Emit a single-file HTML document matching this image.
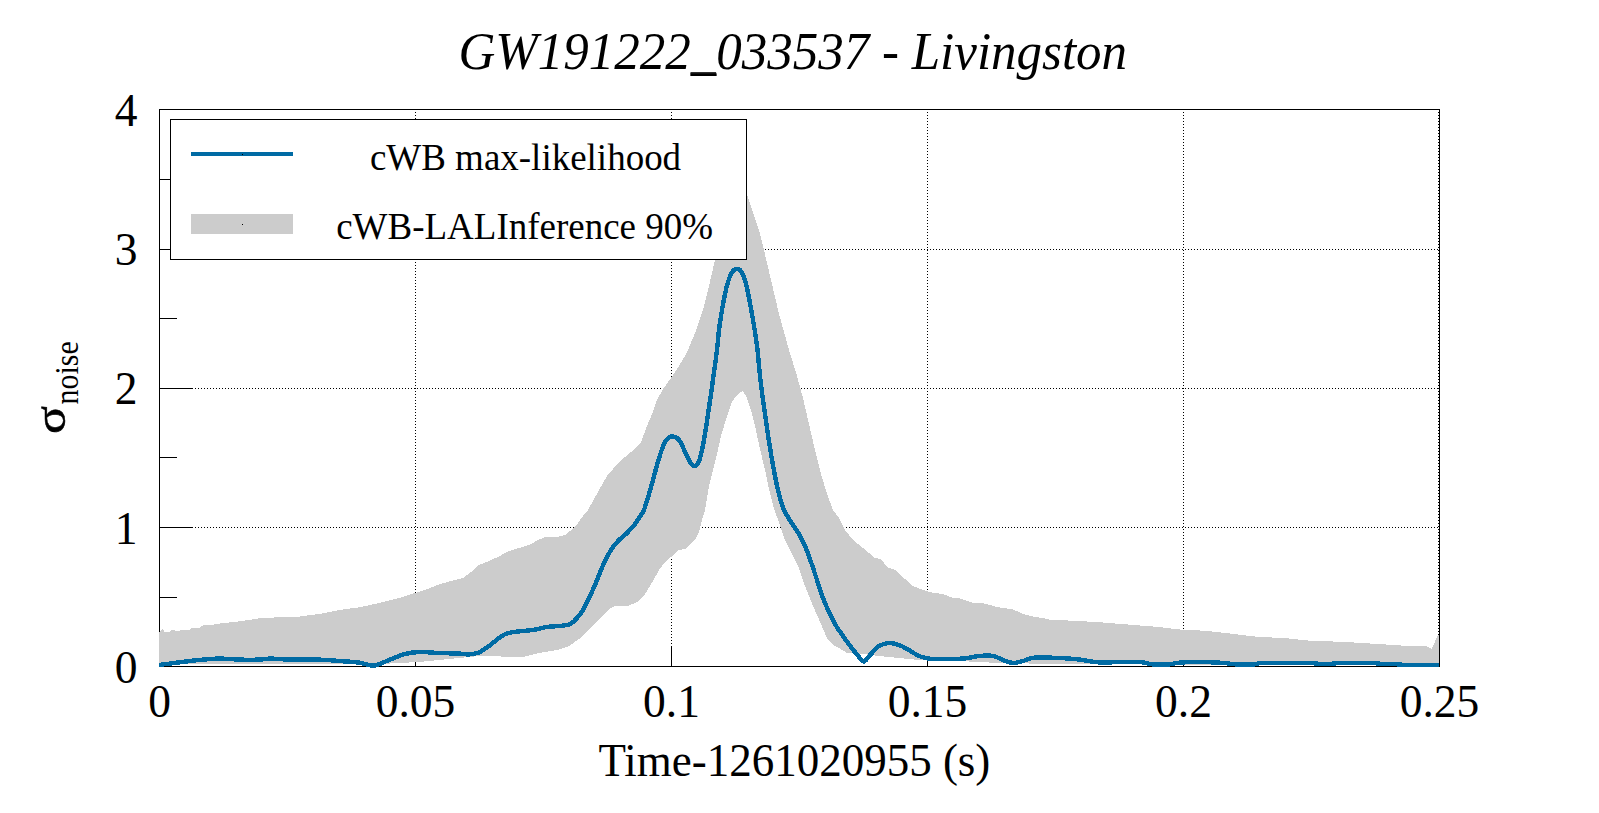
<!DOCTYPE html>
<html lang="en"><head><meta charset="utf-8"><title>GW191222_033537 - Livingston</title>
<style>
html,body{margin:0;padding:0;background:#fff;}
body{width:1599px;height:813px;overflow:hidden;font-family:"Liberation Serif",serif;}
svg{display:block;}
text{font-family:"Liberation Serif",serif;fill:#000;}
.ax{font-size:45px;}
.lb{font-size:45.5px;}
.lg{font-size:37px;}
</style></head><body>
<svg width="1599" height="813" viewBox="0 0 1599 813">
<rect width="1599" height="813" fill="#fff"/>
<g stroke="#000" stroke-width="1" stroke-dasharray="1 2" shape-rendering="crispEdges" fill="none">
<line x1="415.5" y1="109" x2="415.5" y2="666" />
<line x1="671.5" y1="109" x2="671.5" y2="666" />
<line x1="927.5" y1="109" x2="927.5" y2="666" />
<line x1="1183.5" y1="109" x2="1183.5" y2="666" />
<line x1="1438.5" y1="109" x2="1438.5" y2="666" />
<line x1="159" y1="527.5" x2="1439" y2="527.5" />
<line x1="159" y1="388.5" x2="1439" y2="388.5" />
<line x1="159" y1="249.5" x2="1439" y2="249.5" />
</g>
<g stroke="#000" stroke-width="1" shape-rendering="crispEdges" fill="none">
<rect x="159.5" y="109.5" width="1280" height="557"/>
<line x1="159" y1="666.5" x2="193" y2="666.5" />
<line x1="159" y1="527.5" x2="193" y2="527.5" />
<line x1="159" y1="388.5" x2="193" y2="388.5" />
<line x1="159" y1="249.5" x2="193" y2="249.5" />
<line x1="159" y1="109.5" x2="193" y2="109.5" />
<line x1="159" y1="597.5" x2="177" y2="597.5" />
<line x1="159" y1="457.5" x2="177" y2="457.5" />
<line x1="159" y1="318.5" x2="177" y2="318.5" />
<line x1="159" y1="179.5" x2="177" y2="179.5" />
<line x1="159.5" y1="646" x2="159.5" y2="667" />
<line x1="415.5" y1="646" x2="415.5" y2="667" />
<line x1="671.5" y1="646" x2="671.5" y2="667" />
<line x1="927.5" y1="646" x2="927.5" y2="667" />
<line x1="1183.5" y1="646" x2="1183.5" y2="667" />
<line x1="1439.5" y1="646" x2="1439.5" y2="667" />
</g>
<path d="M159 632 L161 630 L162 629 L164 631 L165 632.3 L169 632.3 L171 630.2 L175 630.2 L176 631.3 L179 631.3 L180 630.2 L189 630.2 L191 628 L199 628 L201 626 L204 625 L213 625 L215 624 L219 623.6 L239 621.4 L259 618.4 L279 617.2 L299 616.6 L319 614 L339 610 L359 607.4 L379 603 L399 598 L415 593 L429 588.4 L439 584.4 L449 581.6 L463 578 L471 572 L479 565 L489 561 L499 556.4 L509 551 L519 548 L529 545 L539 539.6 L545 537 L559 536.6 L565 535 L575 527 L583 516 L588 510 L599 490 L607 476 L619 462 L631 452 L641 442 L647 426 L653 412 L657 400 L663 389 L671 378 L679 366 L685 356 L688 350 L697 328 L703 310 L709 286 L715 260 L725 215 L733 180 L737 170 L741 178 L747 194 L759 230 L764 250 L771 280 L779 314 L789 350 L797 376 L803 398 L809 424 L815 450 L821 474 L827 494 L833 510 L839 518 L845 530 L853 540 L863 548 L875 558 L881 559 L887 567 L895 570 L905 579 L913 586 L923 590 L931 592.4 L943 594 L951 597.4 L959 598 L971 602.4 L985 603.6 L997 607 L1013 609.4 L1023 614 L1035 617 L1043 618 L1051 620 L1059 620 L1096.5 622 L1134 625 L1159 627 L1184 630 L1203 630.6 L1221.5 632.5 L1259 637 L1284 638 L1309 640.6 L1346.5 642 L1384 644.4 L1409 646 L1426.5 646 L1431.5 649 L1438 635 L1439 635 L1439 667 L1439 665.5 L1259 665 L1059 664 L999 663 L959 661 L919 660 L899 658 L879 656 L863 654 L847 653 L839 648 L833 645 L827 638 L821 624 L813 606 L805 586 L799 568 L793 556 L785 540 L779 522 L774 509 L769 489 L765 470 L760 449 L755 426 L751 410 L749 404 L746 396 L742.5 391 L737 395 L732 402 L727 416 L721 436 L717 454 L713 470 L709 486 L705 510 L702 520 L699 532 L695 540 L685 549 L679 550 L671 557 L665 562 L659 570 L653 581 L645 594 L637 602 L629 605.6 L615 606 L609 609 L599 619 L589 630 L579 639 L569 646 L559 649.6 L539 653 L521 657.4 L499 656.4 L479 656 L419 662 L374 664.3 L359 664.3 L259 664.3 L161 664.3 L159 667Z" fill="#cccccc" shape-rendering="crispEdges"/>
<path d="M159 665 C162.3 664.6 172.3 663.2 179 662.4 C185.7 661.6 192.3 660.6 199 660 C205.7 659.4 212.3 658.7 219 658.6 C225.7 658.5 232.3 659.4 239 659.6 C245.7 659.8 253.7 659.8 259 659.6 C264.3 659.4 266.0 658.6 271 658.6 C276.0 658.6 281.0 659.4 289 659.6 C297.0 659.8 310.7 659.4 319 659.6 C327.3 659.8 332.3 660.5 339 661 C345.7 661.5 353.2 661.8 359 662.6 C364.8 663.4 369.0 666.0 374 665.6 C379.0 665.2 383.8 661.9 389 660 C394.2 658.1 400.0 655.3 405 654 C410.0 652.7 413.3 652.2 419 652 C424.7 651.8 432.3 652.7 439 653 C445.7 653.3 454.0 653.4 459 653.6 C464.0 653.8 465.7 654.6 469 654.4 C472.3 654.2 475.7 653.8 479 652.4 C482.3 651.0 485.7 648.4 489 646 C492.3 643.6 496.0 640.1 499 638 C502.0 635.9 503.7 634.5 507 633.4 C510.3 632.3 514.7 632.0 519 631.4 C523.3 630.8 528.3 630.7 533 630 C537.7 629.3 542.0 627.7 547 627 C552.0 626.3 559.0 626.2 563 625.6 C567.0 625.0 568.7 624.9 571 623.6 C573.3 622.3 575.0 620.3 577 618 C579.0 615.7 581.0 613.3 583 610 C585.0 606.7 587.0 602.2 589 598 C591.0 593.8 593.0 589.7 595 585 C597.0 580.3 599.0 574.7 601 570 C603.0 565.3 605.0 560.8 607 557 C609.0 553.2 611.0 549.8 613 547 C615.0 544.2 616.7 542.3 619 540 C621.3 537.7 624.3 535.7 627 533 C629.7 530.3 632.7 527.0 635 524 C637.3 521.0 639.5 517.3 641 515 C642.5 512.7 642.7 513.5 644 510 C645.3 506.5 647.5 499.0 649 494 C650.5 489.0 651.7 484.8 653 480 C654.3 475.2 655.7 469.7 657 465 C658.3 460.3 659.7 455.8 661 452 C662.3 448.2 663.7 444.4 665 442 C666.3 439.6 667.7 438.3 669 437.4 C670.3 436.5 671.7 436.3 673 436.4 C674.3 436.5 675.7 436.9 677 438 C678.3 439.1 679.7 440.7 681 443 C682.3 445.3 683.5 448.8 685 452 C686.5 455.2 688.4 459.7 690 462 C691.6 464.3 693.1 466.2 694.6 466 C696.1 465.8 697.8 463.7 699 461 C700.2 458.3 701.0 454.5 702 450 C703.0 445.5 704.0 440.0 705 434 C706.0 428.0 707.0 420.7 708 414 C709.0 407.3 710.0 401.0 711 394 C712.0 387.0 713.0 379.3 714 372 C715.0 364.7 716.2 357.0 717 350 C717.8 343.0 718.2 336.7 719 330 C719.8 323.3 721.0 316.0 722 310 C723.0 304.0 724.0 298.7 725 294 C726.0 289.3 727.0 285.3 728 282 C729.0 278.7 730.0 276.0 731 274 C732.0 272.0 733.0 270.8 734 270 C735.0 269.2 736.0 269.0 737 269 C738.0 269.0 739.0 269.0 740 270 C741.0 271.0 742.0 272.7 743 275 C744.0 277.3 745.0 280.2 746 284 C747.0 287.8 748.0 293.0 749 298 C750.0 303.0 751.0 308.3 752 314 C753.0 319.7 754.1 326.0 755 332 C755.9 338.0 756.7 342.7 757.5 350 C758.3 357.3 759.1 367.7 760 376 C760.9 384.3 761.8 391.3 763 400 C764.2 408.7 765.7 419.0 767 428 C768.3 437.0 769.7 446.0 771 454 C772.3 462.0 773.7 469.3 775 476 C776.3 482.7 777.5 488.3 779 494 C780.5 499.7 782.0 505.3 784 510 C786.0 514.7 788.5 518.0 791 522 C793.5 526.0 796.7 530.0 799 534 C801.3 538.0 803.0 541.3 805 546 C807.0 550.7 809.0 556.3 811 562 C813.0 567.7 815.0 574.0 817 580 C819.0 586.0 821.0 592.7 823 598 C825.0 603.3 827.0 607.7 829 612 C831.0 616.3 832.7 620.0 835 624 C837.3 628.0 840.3 632.2 843 636 C845.7 639.8 848.3 643.5 851 647 C853.7 650.5 856.8 654.6 859 657 C861.2 659.4 862.0 662.0 864 661.5 C866.0 661.0 868.5 656.6 871 654 C873.5 651.4 876.0 647.8 879 646 C882.0 644.2 885.7 643.2 889 643 C892.3 642.8 895.7 643.8 899 645 C902.3 646.2 905.7 648.2 909 650 C912.3 651.8 915.3 654.5 919 656 C922.7 657.5 926.0 658.5 931 659 C936.0 659.5 943.3 659.1 949 659 C954.7 658.9 960.0 658.9 965 658.4 C970.0 657.9 974.3 656.4 979 656 C983.7 655.6 989.0 655.3 993 656 C997.0 656.7 999.7 658.8 1003 660 C1006.3 661.2 1009.7 662.8 1013 663 C1016.3 663.2 1019.3 661.9 1023 661 C1026.7 660.1 1029.0 658.1 1035 657.6 C1041.0 657.1 1051.8 657.7 1059 658 C1066.2 658.3 1071.2 658.6 1078 659.4 C1084.8 660.1 1093.2 662.1 1100 662.5 C1106.8 662.9 1112.3 662.1 1119 662 C1125.7 661.9 1134.3 661.6 1140 662 C1145.7 662.4 1148.2 664.0 1153 664.4 C1157.8 664.8 1164.8 664.7 1169 664.4 C1173.2 664.1 1173.4 663.2 1178 662.8 C1182.6 662.4 1189.2 662.0 1196.5 662 C1203.8 662.0 1214.8 662.4 1221.5 662.8 C1228.2 663.2 1231.1 664.1 1236.5 664.4 C1241.9 664.7 1249.4 664.6 1254 664.4 C1258.6 664.2 1254.2 663.2 1264 663 C1273.8 662.8 1304.3 662.8 1313 663 C1321.7 663.2 1312.5 663.8 1316 664 C1319.5 664.2 1330.7 664.2 1334 664 C1337.3 663.8 1329.0 663.2 1336 663 C1343.0 662.8 1369.0 662.8 1376 663 C1383.0 663.2 1374.0 663.8 1378 664 C1382.0 664.2 1396.2 663.8 1400 664 C1403.8 664.2 1394.5 664.8 1401 665 C1407.5 665.2 1432.7 665.0 1439 665" fill="none" stroke="#006ba4" stroke-width="4.4" stroke-linejoin="round" shape-rendering="crispEdges"/>
<g shape-rendering="crispEdges">
<line x1="1439.5" y1="109" x2="1439.5" y2="662" stroke="#000" stroke-width="1"/>
<rect x="170.5" y="119.5" width="576" height="140" fill="#fff" stroke="#000" stroke-width="1"/>
<rect x="191" y="152" width="102" height="4" fill="#006ba4"/>
<rect x="191" y="214" width="102" height="20" fill="#cccccc"/>
<rect x="242" y="154" width="1" height="1" fill="#000"/>
<rect x="242" y="224" width="1" height="1" fill="#000"/>
</g>
<text transform="translate(525.5 169.8) scale(1 1.025)" text-anchor="middle" class="lg">cWB max-likelihood</text>
<text transform="translate(524.6 238.8) scale(1 1.025)" text-anchor="middle" class="lg">cWB-LALInference 90%</text>
<text transform="translate(792.8 69) scale(1 1.05)" text-anchor="middle" font-style="italic" font-size="51">GW191222_033537 - Livingston</text>
<rect x="690.5" y="72.2" width="25.6" height="1.6" fill="#000"/>
<g class="lb"><text transform="translate(137.5 682.7) scale(1 1.04)" text-anchor="end">0</text><text transform="translate(137.5 543.5) scale(1 1.04)" text-anchor="end">1</text><text transform="translate(137.5 404.2) scale(1 1.04)" text-anchor="end">2</text><text transform="translate(137.5 264.9) scale(1 1.04)" text-anchor="end">3</text><text transform="translate(137.5 125.7) scale(1 1.04)" text-anchor="end">4</text><text transform="translate(159.5 716.9) scale(1 1.04)" text-anchor="middle">0</text><text transform="translate(415.5 716.9) scale(1 1.04)" text-anchor="middle">0.05</text><text transform="translate(671.5 716.9) scale(1 1.04)" text-anchor="middle">0.1</text><text transform="translate(927.5 716.9) scale(1 1.04)" text-anchor="middle">0.15</text><text transform="translate(1183.5 716.9) scale(1 1.04)" text-anchor="middle">0.2</text><text transform="translate(1439.5 716.9) scale(1 1.04)" text-anchor="middle">0.25</text></g>
<text transform="translate(794.4 776) scale(1 1.03)" text-anchor="middle" class="ax">Time-1261020955 (s)</text>
<text transform="translate(64.8 434) rotate(-90) scale(1.155 1)" font-size="45" stroke="#000" stroke-width="0.5">σ</text>
<text transform="translate(78.4 404.5) rotate(-90) scale(1 1.12)" font-size="30">noise</text>
</svg>
</body></html>
